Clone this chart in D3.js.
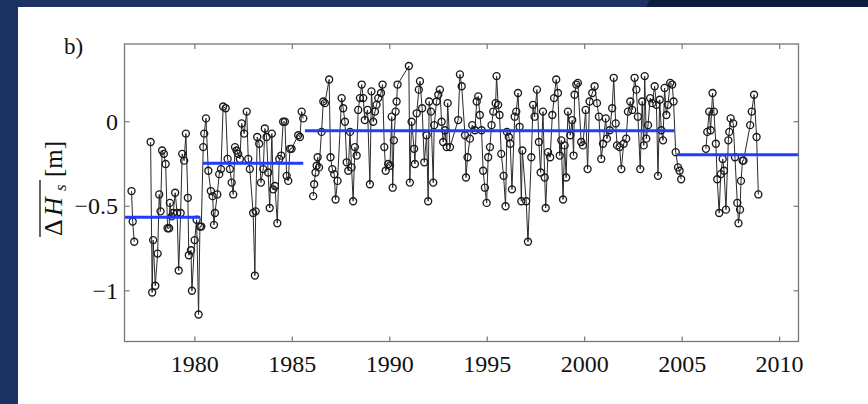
<!DOCTYPE html>
<html><head><meta charset="utf-8">
<script src="https://cdn.jsdelivr.net/npm/d3@7/dist/d3.min.js"></script>
<style>html,body{margin:0;padding:0;background:#fff;}svg{display:block;}</style>
</head><body>
<svg id="chart" width="868" height="404"></svg>
<script>
// ---- data ----
// null marks a gap in the record
const years = [
1976.75,1976.81,1976.89,null,
1977.73,1977.81,1977.86,1977.97,1978.09,1978.17,1978.24,1978.32,1978.41,1978.50,1978.60,1978.68,1978.72,1978.81,1978.89,1978.99,
1979.09,1979.17,1979.27,1979.35,1979.45,1979.54,1979.64,1979.69,1979.80,1979.85,1979.99,1980.09,1980.19,1980.26,1980.33,
1980.43,1980.48,1980.57,1980.69,1980.82,1980.91,1980.98,1981.03,1981.15,1981.25,1981.34,1981.45,1981.58,1981.68,1981.80,1981.89,1981.97,
1982.06,1982.14,1982.22,1982.31,1982.40,1982.53,1982.66,1982.74,1982.82,1982.99,1983.08,1983.12,1983.20,1983.30,1983.39,1983.51,1983.59,
1983.68,1983.76,1983.84,1983.95,1984.02,1984.11,1984.23,1984.33,1984.43,1984.53,1984.62,1984.71,1984.79,1984.88,1984.96,1985.30,1985.39,
1985.48,1985.56,null,
1986.07,1986.12,1986.19,1986.25,1986.30,1986.37,1986.50,1986.59,1986.67,1986.89,1986.96,1987.05,1987.15,1987.22,1987.32,1987.53,1987.61,
1987.70,1987.79,1987.87,1987.96,1988.04,1988.12,1988.21,1988.30,1988.38,1988.47,1988.56,1988.64,1988.72,1988.86,1988.98,1989.06,1989.15,
1989.24,1989.32,1989.41,1989.55,1989.63,1989.72,1989.79,1989.92,1990.01,1990.10,1990.15,1990.21,1990.30,1990.35,1990.40,1990.98,1991.03,
1991.12,1991.25,1991.29,1991.38,1991.49,1991.55,1991.66,1991.77,1991.89,1991.97,1992.02,1992.11,1992.23,1992.28,1992.40,1992.49,1992.57,
1992.66,1992.74,1992.83,1992.92,1992.97,1993.09,1993.51,1993.60,1993.69,1993.86,1993.91,1993.99,1994.11,1994.23,1994.37,1994.46,1994.54,
1994.62,1994.71,1994.79,1994.88,1994.97,1995.05,1995.14,1995.22,1995.31,1995.43,1995.48,1995.56,1995.63,1995.72,1995.84,1995.94,1996.01,
1996.11,1996.18,1996.27,1996.41,1996.49,1996.58,1996.66,1996.75,1996.80,1997.00,1997.09,1997.26,1997.35,1997.43,1997.55,1997.65,1997.74,
1997.86,1997.95,1998.00,1998.12,1998.23,1998.34,1998.43,1998.54,1998.63,1998.72,1998.80,1998.89,1998.97,1999.05,1999.14,1999.26,1999.36,
1999.43,1999.48,1999.57,1999.65,1999.82,1999.91,2000.05,2000.15,2000.25,2000.39,2000.51,2000.63,2000.73,2000.85,2000.94,2001.08,2001.14,
2001.28,2001.41,2001.49,2001.59,2001.66,2001.79,2001.88,2002.00,2002.13,2002.22,2002.34,2002.44,2002.56,2002.65,2002.73,2002.85,2002.95,
2003.03,2003.08,2003.16,2003.25,2003.36,2003.47,2003.59,2003.68,2003.76,2003.85,2003.93,2004.02,2004.10,2004.19,2004.27,2004.39,2004.49,
2004.56,2004.67,2004.79,2004.87,2004.95,null,
2006.22,2006.29,2006.39,2006.46,2006.56,2006.63,2006.73,2006.80,2006.90,2006.98,2007.08,2007.15,2007.25,2007.37,2007.42,2007.49,2007.62,
2007.71,2007.83,2007.89,2007.97,2008.02,2008.10,2008.15,2008.49,2008.57,2008.69,2008.82,2008.91
];
const dHs = [
-0.41,-0.59,-0.71,null,
-0.12,-1.01,-0.70,-0.97,-0.78,-0.43,-0.53,-0.17,-0.19,-0.25,-0.63,-0.63,-0.48,-0.56,-0.54,-0.42,
-0.54,-0.88,-0.54,-0.19,-0.23,-0.07,-0.45,-0.79,-0.76,-1.00,-0.70,-0.58,-1.14,-0.62,-0.62,
-0.15,-0.07,0.02,-0.29,-0.41,-0.44,-0.61,-0.54,-0.43,-0.31,-0.28,0.09,0.08,-0.22,-0.28,-0.36,-0.43,
-0.15,-0.17,-0.19,-0.22,-0.01,-0.07,0.06,-0.22,-0.28,-0.54,-0.91,-0.53,-0.09,-0.13,-0.36,-0.28,-0.04,
-0.09,-0.30,-0.51,-0.07,-0.40,-0.38,-0.60,-0.22,-0.20,0.00,0.00,-0.32,-0.35,-0.16,-0.16,-0.08,-0.09,
0.06,0.02,null,
-0.44,-0.37,-0.30,-0.26,-0.21,-0.27,-0.06,0.12,0.11,0.25,-0.21,-0.28,-0.31,-0.46,-0.35,0.14,0.08,
0.00,-0.24,-0.29,-0.06,-0.27,-0.47,-0.15,-0.20,0.07,0.14,0.22,0.14,0.01,0.07,-0.37,0.18,0.00,
0.06,0.10,0.14,0.17,0.22,-0.15,-0.29,-0.25,-0.26,0.03,-0.39,-0.11,0.06,0.12,0.22,0.33,-0.36,
0.00,-0.16,-0.25,0.05,0.19,0.24,0.08,-0.24,-0.08,-0.47,0.12,0.06,-0.36,-0.02,0.12,0.16,0.19,
0.00,-0.12,-0.05,-0.15,0.11,-0.15,0.01,0.28,0.21,-0.08,-0.33,-0.21,-0.10,-0.02,-0.05,0.12,0.15,
0.04,-0.05,-0.29,-0.39,-0.48,-0.21,-0.15,-0.02,0.06,0.11,0.27,0.10,0.04,-0.19,-0.32,-0.50,-0.06,
-0.09,-0.13,-0.40,0.03,0.06,0.17,-0.03,-0.47,-0.17,-0.47,-0.71,-0.21,0.10,0.03,0.19,-0.12,-0.30,
0.06,-0.33,-0.51,-0.18,-0.21,0.04,0.14,0.25,0.17,-0.20,-0.11,-0.46,-0.14,-0.33,0.06,-0.08,0.01,
-0.20,0.16,0.22,0.23,-0.12,-0.14,0.07,-0.28,0.12,0.17,0.21,0.11,0.03,-0.22,-0.13,0.02,-0.10,
-0.05,0.08,0.26,-0.01,-0.14,-0.15,-0.28,-0.13,-0.10,0.06,0.12,0.07,0.26,0.19,0.03,-0.28,0.12,
-0.14,0.27,-0.10,-0.02,0.14,0.11,0.21,0.10,-0.32,0.13,-0.05,-0.11,0.20,0.04,0.10,0.23,0.22,
0.12,-0.18,-0.27,-0.29,-0.34,null,
-0.16,-0.06,0.06,-0.05,0.17,0.06,-0.13,-0.34,-0.54,-0.31,-0.22,-0.29,-0.52,-0.11,-0.06,0.02,-0.01,
-0.21,-0.48,-0.60,-0.52,-0.35,-0.23,-0.23,-0.02,0.06,0.16,-0.09,-0.43
];
// period means (blue lines)
const meanStart = [1976.39, 1980.42, 1985.65, 2004.72];
const meanEnd   = [1980.28, 1985.56, 2004.60, 2010.97];
const meanValue = [-0.565, -0.246, -0.053, -0.195];
// axes
const xTicks = [1980, 1985, 1990, 1995, 2000, 2005, 2010];
const yTicks = [-1, -0.5, 0];
const xDomain = [1976.39, 2010.97];
const yDomain = [-1.3, 0.46];

// ---- drawing ----
const svg = d3.select("#chart");
svg.append("rect").attr("x",0).attr("y",0).attr("width",868).attr("height",404).attr("fill","#fff");
svg.append("rect").attr("x",0).attr("y",0).attr("width",868).attr("height",7).attr("fill","#1b3263");
svg.append("rect").attr("x",0).attr("y",0).attr("width",18).attr("height",404).attr("fill","#1b3263");
svg.append("path").attr("d","M650,0 L868,0 L868,7 L646,7 Z").attr("fill","#0c1d3e");

const L = 124.5, R = 798.5, T = 44, B = 341.5;
const x = d3.scaleLinear().domain(xDomain).range([L, R]);
const y = d3.scaleLinear().domain(yDomain).range([B, T]);

const pts = years.map((t,i) => ({t, v: dHs[i]}));
const valid = pts.filter(d => d.t !== null && d.v !== null);

const g = svg.append("g");
g.append("rect").attr("x",L).attr("y",T).attr("width",R-L).attr("height",B-T).attr("fill","#fff");

const line = d3.line().defined(d => d.t !== null && d.v !== null).x(d => x(d.t)).y(d => y(d.v));
g.append("path").datum(pts).attr("d", line).attr("fill","none").attr("stroke","#2a2a2a").attr("stroke-width",1);
g.selectAll("circle.m").data(valid).join("circle").attr("class","m")
  .attr("cx", d => x(d.t)).attr("cy", d => y(d.v)).attr("r", 3.5)
  .attr("fill","none").attr("stroke","#1a1a1a").attr("stroke-width",1.35);

g.selectAll("line.mean").data(meanValue).join("line").attr("class","mean")
  .attr("x1",(d,i)=>x(meanStart[i])).attr("x2",(d,i)=>x(meanEnd[i]))
  .attr("y1",d=>y(d)).attr("y2",d=>y(d))
  .attr("stroke","#1f3dff").attr("stroke-width",3);

g.append("rect").attr("x",L).attr("y",T).attr("width",R-L).attr("height",B-T)
  .attr("fill","none").attr("stroke","#777").attr("stroke-width",1.3);

const tk = 5;
const font = "'Liberation Serif','Times New Roman',serif";
xTicks.forEach(t => {
  g.append("line").attr("x1",x(t)).attr("x2",x(t)).attr("y1",B).attr("y2",B-tk).attr("stroke","#777").attr("stroke-width",1.2);
  g.append("line").attr("x1",x(t)).attr("x2",x(t)).attr("y1",T).attr("y2",T+tk).attr("stroke","#777").attr("stroke-width",1.2);
});
yTicks.forEach(t => {
  g.append("line").attr("x1",L).attr("x2",L+tk).attr("y1",y(t)).attr("y2",y(t)).attr("stroke","#777").attr("stroke-width",1.2);
  g.append("line").attr("x1",R).attr("x2",R-tk).attr("y1",y(t)).attr("y2",y(t)).attr("stroke","#777").attr("stroke-width",1.2);
});
const fmtY = d => d === 0 ? "0" : (d < 0 ? "\u2212" : "") + String(Math.abs(d));
svg.append("g").selectAll("text").data(xTicks).join("text")
  .attr("x", d => x(d)).attr("y", 372).attr("text-anchor","middle")
  .attr("font-family", font).attr("font-size", 24).attr("fill","#111").text(d => d);
svg.append("g").selectAll("text").data(yTicks).join("text")
  .attr("x", 118).attr("y", d => y(d) + 8).attr("text-anchor","end")
  .attr("font-family", font).attr("font-size", 24).attr("fill","#111").text(fmtY);

svg.append("text").attr("x",64).attr("y",54).attr("font-family",font).attr("font-size",23).attr("fill","#111").text("b)");

// y label: overline(ΔH_s)[m], rotated, pieces placed along the rotated baseline
const yl = svg.append("g").attr("transform","translate(62,237) rotate(-90)");
const lab = (txt, px, opts={}) => yl.append("text").attr("x",px).attr("y",opts.dy||0)
  .attr("font-family",font).attr("font-size",opts.size||26).attr("font-style",opts.italic?"italic":"normal")
  .attr("fill","#111").text(txt);
lab("\u0394", 1);
lab("H", 21, {italic:true});
lab("s", 46, {italic:true, size:17, dy:4});
lab("[m]", 60, {size:25});
yl.append("line").attr("x1",0).attr("x2",57).attr("y1",-22).attr("y2",-22).attr("stroke","#111").attr("stroke-width",1.3);
</script>
</body></html>
